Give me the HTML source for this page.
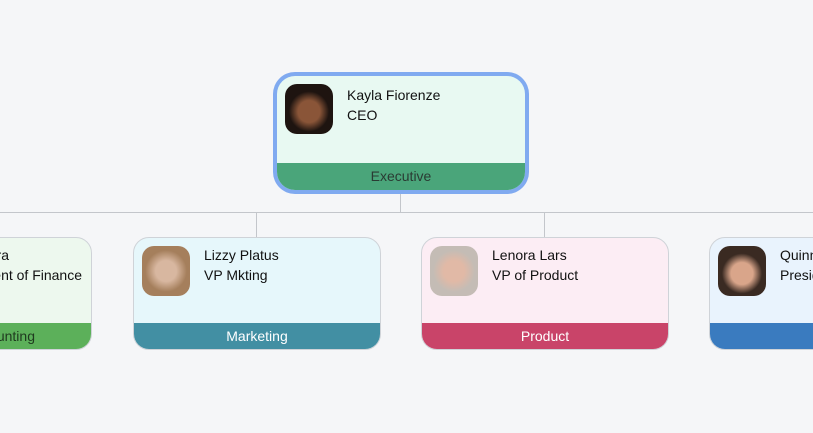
<!DOCTYPE html>
<html><head><style>
body{margin:0;width:813px;height:433px;overflow:hidden;background:#f5f6f8;font-family:"Liberation Sans",sans-serif;position:relative}
.c{position:absolute;width:248px;height:113px;border:1px solid #cfd3d8;border-radius:16px;overflow:hidden;box-sizing:border-box}
.p{position:absolute;left:8px;top:8px;width:48px;height:50px;border-radius:12px}
.n{position:absolute;left:70px;top:7px;font-size:14px;color:#111;white-space:nowrap;line-height:20px}
.b{position:absolute;left:0;right:0;bottom:0;height:26px;color:#fff;font-size:14px;text-align:center;line-height:27px}
.l{position:absolute;background:#c3c6cb}
</style></head><body>
<div class="l" style="left:400px;top:190px;width:1px;height:23px"></div>
<div class="l" style="left:0;top:212px;width:813px;height:1px"></div>
<div class="l" style="left:256px;top:212px;width:1px;height:25px"></div>
<div class="l" style="left:544px;top:212px;width:1px;height:25px"></div>

<div style="position:absolute;left:273px;top:72px;width:256px;height:122px;border-radius:22px;background:#80aaf0"></div>
<div class="c" style="left:277px;top:76px;width:248px;height:114px;background:#e8f9f2;border:none;border-radius:18px">
 <div class="p" style="background:radial-gradient(circle at 50% 55%,#8a5538 0 30%,#1e1410 55%);background-color:#efe6de"></div>
 <div class="n" style="top:9px">Kayla Fiorenze<br>CEO</div>
 <div class="b" style="background:#4aa57a;color:#2a3b33;height:27px">Executive</div>
</div>

<div class="c" style="left:-156px;top:237px;background:#edf8ee">
 <div class="p" style="background:#cfae8f"></div>
 <div class="n" style="left:auto;right:82px;text-align:right">Kiara Sara</div>
 <div class="n" style="left:auto;right:9px;top:27px">Department of Finance</div>
 <div class="b" style="background:#5cb05a;color:#1f3a1f;text-align:right;padding-right:56px">Accounting</div>
</div>
<div class="c" style="left:133px;top:237px;background:#e6f7fb">
 <div class="p" style="background:radial-gradient(circle at 50% 50%,#d8b7a0 0 30%,#a57f5c 60%)"></div>
 <div class="n">Lizzy Platus<br>VP Mkting</div>
 <div class="b" style="background:#428fa3">Marketing</div>
</div>
<div class="c" style="left:421px;top:237px;background:#fcedf4">
 <div class="p" style="background:radial-gradient(circle at 50% 50%,#e1b9a6 0 30%,#c4bcb5 60%)"></div>
 <div class="n">Lenora Lars<br>VP of Product</div>
 <div class="b" style="background:#c94469">Product</div>
</div>
<div class="c" style="left:709px;top:237px;background:#e9f3fd">
 <div class="p" style="background:radial-gradient(circle at 50% 55%,#d9a58a 0 30%,#3a2a22 55%);background-color:#e3d2bd"></div>
 <div class="n">Quinn Reyes<br>President</div>
 <div class="b" style="background:#3a7bbf">Sales</div>
</div>
</body></html>
